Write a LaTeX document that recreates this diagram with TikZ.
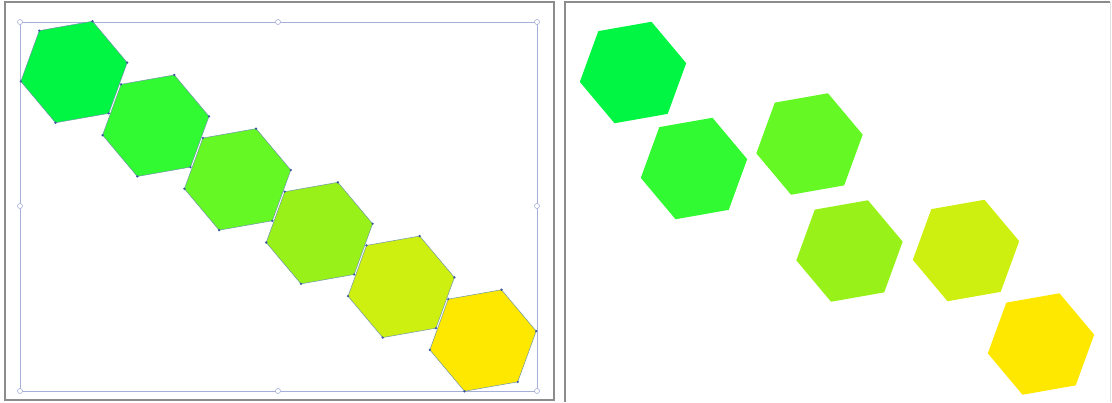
\documentclass[tikz,border=0pt]{standalone}
\usetikzlibrary{shapes.geometric}
\definecolor{hexA}{RGB}{0,246,66}
\definecolor{hexB}{RGB}{50,250,50}
\definecolor{hexC}{RGB}{102,248,36}
\definecolor{hexD}{RGB}{152,242,26}
\definecolor{hexE}{RGB}{206,240,16}
\definecolor{hexF}{RGB}{255,232,0}
\definecolor{edgeblue}{RGB}{110,150,170}
\definecolor{dotblue}{RGB}{60,90,160}
\definecolor{selblue}{RGB}{165,175,215}
\tikzset{
  hexcell/.style={regular polygon,regular polygon sides=6,rotate=10,
    minimum size=108pt,inner sep=0pt,outer sep=0pt},
  hexsel/.style={hexcell,draw=edgeblue,line width=0.5pt},
  vtx/.style={circle,fill=dotblue,inner sep=0pt,minimum size=2.6pt},
  handle/.style={circle,draw=selblue,fill=white,line width=0.6pt,
    inner sep=0pt,minimum size=5pt},
  selbox/.style={draw=selblue,line width=0.8pt},
  panel/.style={draw=black!45,line width=1.2pt},
}

\begin{document}
\begin{tikzpicture}[x=1pt,y=-1pt]
  \useasboundingbox (0,0) rectangle (1112,402);
  % panel frames
  \coordinate (lNW) at (5,2);
  \coordinate (lSE) at (554,400);
  \draw[panel] (lNW) rectangle (lSE);
  \coordinate (rSW) at (565,402);
  \coordinate (rNW) at (565,2);
  \coordinate (rNE) at (1110,2);
  \coordinate (rSE) at (1110,402);
  \draw[panel] (rSW) -- (rNW) -- (rNE);
  \draw[black!12,line width=1pt] (rNE) -- (rSE);
  % selection box
  \coordinate (selNW) at (20,22);
  \coordinate (selSE) at (537,391);
  \draw[selbox] (selNW) rectangle (selSE);
  % chained hexagons
  \foreach \c [count=\k from 0] in {hexA,hexB,hexC,hexD,hexE,hexF}
    \node[hexsel,fill=\c] (L\k) at ({74+81.8*\k},{72+53.7*\k}) {};
  \foreach \k in {0,...,5}
    \foreach \j in {1,...,6}
      \node[vtx] at (L\k.corner \j) {};
  % handles
  \foreach \p [count=\i] in {(20,22),(278,22),(537,22),(20,206),(537,206),
      (20,391),(278,391),(537,391)}
    \node[handle] (hd\i) at \p {};
  % scattered hexagons
  \node[hexcell,fill=hexA] (R0) at (633,72.5) {};
  \node[hexcell,fill=hexB] (R1) at (694,168.5) {};
  \node[hexcell,fill=hexC] (R2) at (809.5,144) {};
  \node[hexcell,fill=hexD] (R3) at (849.5,251) {};
  \node[hexcell,fill=hexE] (R4) at (966,250.5) {};
  \node[hexcell,fill=hexF] (R5) at (1041,344) {};
\end{tikzpicture}
\end{document}
